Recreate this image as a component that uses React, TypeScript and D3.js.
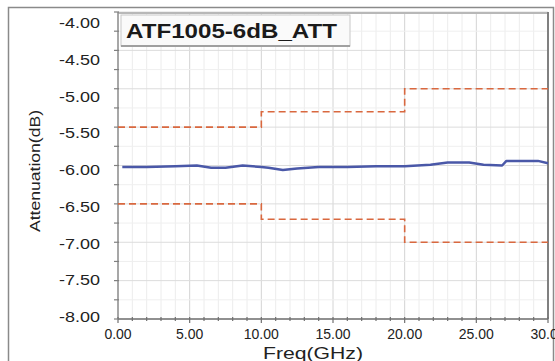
import React from "react";
import * as d3 from "d3";

const title = "ATF1005-6dB_ATT";
const xTicks = [0, 5, 10, 15, 20, 25, 30];
const yTicks = [-4, -4.5, -5, -5.5, -6, -6.5, -7, -7.5, -8];
const freq = [0.3, 2, 4, 5.5, 6.5, 7.5, 8.7, 10, 10.5, 11.5, 12.5, 14, 16, 18, 20, 21.8, 23, 24.5, 25.5, 26.8, 27.1, 28.5, 29.3, 30];
const atten = [-6.02, -6.02, -6.01, -6.0, -6.03, -6.03, -6.0, -6.02, -6.03, -6.06, -6.04, -6.02, -6.02, -6.01, -6.01, -5.99, -5.96, -5.96, -5.99, -6.0, -5.94, -5.94, -5.94, -5.97];
const bandEdges = [0, 10, 20, 30];
const upperLimit = [-5.5, -5.3, -5.0];
const lowerLimit = [-6.5, -6.7, -7.0];

export default function App() {
  const W = 555, H = 361;
  const x = d3.scaleLinear().domain([0, 30]).range([118, 548]);
  const y = d3.scaleLinear().domain([-8, -4]).range([319, 12]);
  const yLab = d3.scaleLinear().domain([-8, -4]).range([317, 23]);

  const line = d3.line<[number, number]>().x(d => x(d[0])).y(d => y(d[1]));
  const step = d3.line<[number, number]>().x(d => x(d[0])).y(d => y(d[1])).curve(d3.curveStepAfter);

  const mainPts: [number, number][] = freq.map((f, i) => [f, atten[i]]);
  const mk = (lim: number[]): [number, number][] => [
    ...lim.map((v, i) => [bandEdges[i], v] as [number, number]),
    [bandEdges[bandEdges.length - 1], lim[lim.length - 1]],
  ];

  const minorX = d3.range(0, 31, 1);
  const minorY = d3.range(-8, -3.99, 0.25);

  const red = "#d9683f";
  return (
    <svg width={W} height={H} style={{ position: "absolute", left: 0, top: 0, background: "#fff" }}
      fontFamily="'Liberation Sans', Arial, sans-serif">
      <rect x={0} y={0} width={W} height={H} fill="#fff" />
      {/* outer frame */}
      <path d={`M8.5,${H} V7.5 H553.5 V${H}`} fill="none" stroke="#8a8a8a" strokeWidth={1.5} />
      {/* grid */}
      {minorX.map(v => (
        <line key={"mx" + v} x1={x(v)} x2={x(v)} y1={y(-4)} y2={y(-8)} stroke={v % 5 === 0 ? "#d4d4d4" : "#ececec"} strokeWidth={1} />
      ))}
      {minorY.map(v => (
        <line key={"my" + v} x1={x(0)} x2={x(30)} y1={y(v)} y2={y(v)} stroke={Math.abs(v * 2 - Math.round(v * 2)) < 1e-6 ? "#dcdcdc" : "#efefef"} strokeWidth={1} />
      ))}
      {/* plot borders */}
      <line x1={x(0)} x2={x(30)} y1={13} y2={13} stroke="#b8b8b8" strokeWidth={2} />
      <line x1={x(30)} x2={x(30)} y1={12} y2={y(-8)} stroke="#808080" strokeWidth={2} />
      <line x1={x(0)} x2={x(0)} y1={12} y2={y(-8)} stroke="#909090" strokeWidth={1.5} />
      <line x1={x(0)} x2={x(30)} y1={y(-8)} y2={y(-8)} stroke="#707070" strokeWidth={1.5} />
      {/* ticks */}
      {minorX.map(v => (
        <line key={"tx" + v} x1={x(v)} x2={x(v)} y1={y(-8) - 2} y2={y(-8) + (v % 5 === 0 ? 4 : 2)} stroke="#707070" strokeWidth={1.2} />
      ))}
      {minorY.map(v => (
        <line key={"ty" + v} x1={x(0) - 4} x2={x(0) + 1} y1={y(v)} y2={y(v)} stroke="#808080" strokeWidth={1.2} />
      ))}
      {/* limit lines */}
      <path d={step(mk(upperLimit)) || ""} fill="none" stroke={red} strokeWidth={1.6} strokeDasharray="7,4" />
      <path d={step(mk(lowerLimit)) || ""} fill="none" stroke={red} strokeWidth={1.6} strokeDasharray="7,4" />
      {/* main trace */}
      <path d={line(mainPts) || ""} fill="none" stroke="#4a58a8" strokeWidth={2.5} strokeLinejoin="round" />
      {/* title box */}
      <rect x={121} y={15} width={229} height={31} fill="#fafafa" stroke="#c8c8c8" strokeWidth={1} />
      <line x1={121} x2={350} y1={46} y2={46} stroke="#a0a0a0" strokeWidth={2} />
      <text x={126} y={38} fontSize={20} fontWeight="bold" fill="#1a1a1a" textLength={211} lengthAdjust="spacingAndGlyphs">{title}</text>
      {/* y labels */}
      {yTicks.map(v => (
        <text key={"yl" + v} x={100} y={yLab(v) + 5} fontSize={14} fill="#222" textAnchor="end" textLength={41} lengthAdjust="spacingAndGlyphs">{v.toFixed(2)}</text>
      ))}
      {/* x labels */}
      {xTicks.map(v => (
        <text key={"xl" + v} x={x(v)} y={339} fontSize={14} fill="#222" textAnchor="middle">{v.toFixed(2)}</text>
      ))}
      <text x={313} y={359} fontSize={17} fill="#222" textAnchor="middle" textLength={100} lengthAdjust="spacingAndGlyphs">Freq(GHz)</text>
      <text transform={`translate(40,171) rotate(-90)`} fontSize={15} fill="#222" textAnchor="middle" textLength={122} lengthAdjust="spacingAndGlyphs">Attenuation(dB)</text>
    </svg>
  );
}
